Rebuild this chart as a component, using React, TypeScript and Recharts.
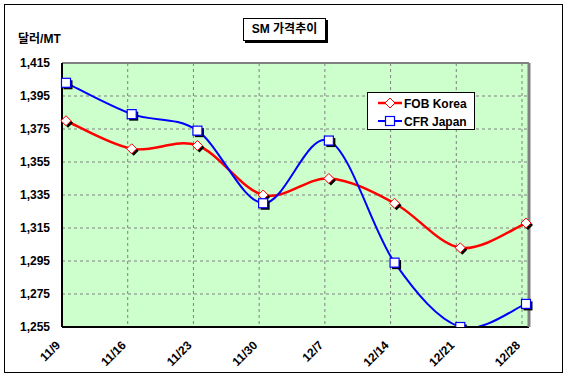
import React from 'react';
import { LineChart, Line, XAxis, YAxis, CartesianGrid, Legend } from 'recharts';

const categories = ['11/9', '11/16', '11/23', '11/30', '12/7', '12/14', '12/21', '12/28'];
const fobKorea = [1380, 1363, 1365, 1335, 1345, 1330, 1303, 1318];
const cfrJapan = [1403, 1384, 1374, 1330, 1368, 1294, 1255, 1269];
const yTicks = [1255, 1275, 1295, 1315, 1335, 1355, 1375, 1395, 1415];

const data = categories.map((d, i) => ({ d, fob: fobKorea[i], cfr: cfrJapan[i] }));

const FONT = "'Liberation Sans', Arial, 'Noto Sans CJK KR', sans-serif";
const KFONT = "'Liberation Sans', Arial, 'Noto Sans CJK KR', sans-serif";

// Excel-like smoothing (Catmull-Rom to Bezier)
const excelCurve: any = (context: any) => {
  let pts: [number, number][] = [];
  return {
    areaStart() {},
    areaEnd() {},
    lineStart() {
      pts = [];
    },
    lineEnd() {
      if (!pts.length) return;
      context.moveTo(pts[0][0], pts[0][1]);
      for (let i = 0; i < pts.length - 1; i++) {
        const p0 = pts[Math.max(i - 1, 0)];
        const p1 = pts[i];
        const p2 = pts[i + 1];
        const p3 = pts[Math.min(i + 2, pts.length - 1)];
        context.bezierCurveTo(
          p1[0] + (p2[0] - p0[0]) / 6,
          p1[1] + (p2[1] - p0[1]) / 6,
          p2[0] - (p3[0] - p1[0]) / 6,
          p2[1] - (p3[1] - p1[1]) / 6,
          p2[0],
          p2[1]
        );
      }
    },
    point(x: number, y: number) {
      pts.push([+x, +y]);
    },
  };
};

const Diamond = (props: any) => {
  const { cx, cy, index } = props;
  if (cx == null || cy == null) return null;
  const r = 5;
  const pts = (ox: number, oy: number) =>
    `${cx + ox},${cy + oy - r} ${cx + ox + r},${cy + oy} ${cx + ox},${cy + oy + r} ${cx + ox - r},${cy + oy}`;
  return (
    <g key={`fd${index}`}>
      <polygon points={pts(2, 2)} fill="#000" />
      <polygon points={pts(0, 0)} fill="#fff" stroke="#FF0000" strokeWidth={1} />
    </g>
  );
};

const Square = (props: any) => {
  const { cx, cy, index } = props;
  if (cx == null || cy == null) return null;
  const s = 4.5;
  return (
    <g key={`cs${index}`}>
      <rect x={cx - s + 2} y={cy - s + 2} width={2 * s} height={2 * s} fill="#000" />
      <rect x={cx - s} y={cy - s} width={2 * s} height={2 * s} fill="#fff" stroke="#0000FF" strokeWidth={1.2} />
    </g>
  );
};

const XTick = (props: any) => {
  const { x, payload } = props;
  const ax = x - 1;
  const ay = 346;
  return (
    <text
      x={ax}
      y={ay}
      transform={`rotate(-45 ${ax} ${ay})`}
      textAnchor="end"
      fontFamily={FONT}
      fontSize={12}
      fontWeight="bold"
      fill="#000"
    >
      {payload.value}
    </text>
  );
};

const YTick = (props: any) => {
  const { y, payload } = props;
  return (
    <text x={50} y={y + 4} textAnchor="end" fontFamily={FONT} fontSize={12} fontWeight="bold" fill="#000">
      {payload.value.toLocaleString('en-US')}
    </text>
  );
};

const LegendBox = () => (
  <div
    style={{
      width: 108,
      height: 38,
      boxSizing: 'border-box',
      border: '1px solid #000',
      background: '#fff',
      fontFamily: FONT,
      fontSize: 12,
      fontWeight: 'bold',
      position: 'relative',
    }}
  >
    <svg width={108} height={38} style={{ position: 'absolute', left: 0, top: 0 }}>
      <line x1={10} y1={10} x2={34} y2={10} stroke="#FF0000" strokeWidth={2.5} />
      <polygon points="22,5 27,10 22,15 17,10" fill="#fff" stroke="#FF0000" strokeWidth={1} />
      <text x={36} y={14.5} fontFamily={FONT} fontSize={12} fontWeight="bold" fill="#000">
        FOB Korea
      </text>
      <line x1={10} y1={28} x2={34} y2={28} stroke="#0000FF" strokeWidth={2} />
      <rect x={17.5} y={23.5} width={9} height={9} fill="#fff" stroke="#0000FF" strokeWidth={1.2} />
      <text x={36} y={32.5} fontFamily={FONT} fontSize={12} fontWeight="bold" fill="#000">
        CFR Japan
      </text>
    </svg>
  </div>
);

export default function App() {
  return (
    <div style={{ position: 'absolute', left: 0, top: 0, width: 568, height: 378, background: '#fff' }}>
      <div
        style={{
          position: 'absolute',
          left: 4,
          top: 4,
          width: 559,
          height: 369,
          boxSizing: 'border-box',
          border: '1.5px solid #000',
        }}
      />
      <div
        style={{
          position: 'absolute',
          left: 243,
          top: 18,
          width: 83,
          height: 23,
          boxSizing: 'border-box',
          border: '1px solid #000',
          background: '#fff',
          boxShadow: '2px 2px 0 #000',
          fontFamily: KFONT,
          fontSize: 12,
          fontWeight: 'bold',
          textAlign: 'center',
          lineHeight: '21px',
          zIndex: 2,
        }}
      >
        SM 가격추이
      </div>
      <div
        style={{
          position: 'absolute',
          left: 18,
          top: 32,
          fontFamily: KFONT,
          fontSize: 12,
          fontWeight: 'bold',
          lineHeight: '14px',
          zIndex: 2,
        }}
      >
        달러/MT
      </div>
      <LineChart width={568} height={378} data={data} margin={{ top: 0, right: 0, bottom: 0, left: 0 }}>
        <CartesianGrid stroke="#808080" strokeDasharray="3 3" fill="#CCFFCC" fillOpacity={1} />
        <XAxis
          dataKey="d"
          height={51}
          interval={0}
          padding={{ left: 0, right: 7 }}
          tickLine={false}
          axisLine={{ stroke: '#000', strokeWidth: 2 }}
          tick={<XTick />}
        />
        <XAxis xAxisId="pts" dataKey="d" hide padding={{ left: 4, right: 3 }} />
        <XAxis
          xAxisId="top"
          orientation="top"
          dataKey="d"
          height={63}
          tick={false}
          tickLine={false}
          axisLine={{ stroke: '#808080', strokeWidth: 2 }}
        />
        <YAxis
          width={62}
          domain={[1255, 1415]}
          ticks={yTicks}
          interval={0}
          allowDataOverflow
          tickLine={false}
          axisLine={{ stroke: '#000', strokeWidth: 2 }}
          tick={<YTick />}
        />
        <YAxis
          yAxisId="right"
          orientation="right"
          width={39}
          domain={[1255, 1415]}
          tick={false}
          tickLine={false}
          axisLine={{ stroke: '#808080', strokeWidth: 3 }}
        />
        <Line
          xAxisId="pts"
          dataKey="fob"
          name="FOB Korea"
          type={excelCurve}
          stroke="#FF0000"
          strokeWidth={2.5}
          dot={<Diamond />}
          activeDot={false}
          isAnimationActive={false}
        />
        <Line
          xAxisId="pts"
          dataKey="cfr"
          name="CFR Japan"
          type={excelCurve}
          stroke="#0000FF"
          strokeWidth={2}
          dot={<Square />}
          activeDot={false}
          isAnimationActive={false}
        />
        <Legend
          layout="vertical"
          align="center"
          verticalAlign="middle"
          wrapperStyle={{ left: 367, top: 92, width: 108, height: 38 }}
          content={<LegendBox />}
        />
      </LineChart>
    </div>
  );
}
